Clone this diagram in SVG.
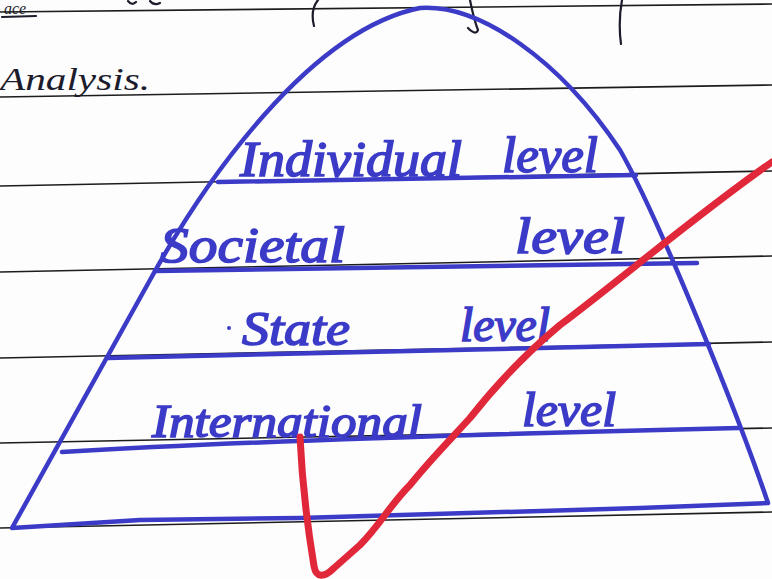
<svg xmlns="http://www.w3.org/2000/svg" width="772" height="579" viewBox="0 0 772 579">
<style>
.rule{stroke:#1c1c1c;stroke-width:1.6;fill:none}
.ink{stroke:#1c1c2c;stroke-width:2.2;fill:none;stroke-linecap:round}
.blue{stroke:#3b3bc8;stroke-width:4.5;fill:none;stroke-linecap:round;stroke-linejoin:round}
.hw{font-family:"Liberation Serif","DejaVu Serif",serif;font-style:italic;fill:#3b3bc8;stroke:#3b3bc8;stroke-width:1.6}
.bk{font-family:"Liberation Serif","DejaVu Serif",serif;font-style:italic;fill:#1c1c2c}
.red{stroke:#e0283a;stroke-width:7;fill:none;stroke-linecap:round;stroke-linejoin:round}
</style>
<rect width="772" height="579" fill="#fdfdfd"/>
<g id="paper">
<path class="rule" d="M0 12 L772 4"/>
<path class="rule" d="M0 97 L772 85"/>
<path class="rule" d="M0 186 L772 171"/>
<path class="rule" d="M0 272 L772 256"/>
<path class="rule" d="M0 358 L772 342"/>
<path class="rule" d="M0 443 L772 428"/>
<path class="rule" d="M0 528 L772 512"/>
<text class="bk" x="4" y="14" font-size="16">ace</text>
<path class="ink" d="M2 17 L36 16"/>
<path class="ink" d="M128 1 Q132 6 136 2 M150 1 Q154 6 160 3"/>
<path class="ink" d="M318 0 Q310 10 314 26"/>
<path class="ink" d="M470 0 Q474 20 478 30 Q476 36 468 28"/>
<path class="ink" d="M622 0 Q618 22 621 44"/>
<text class="bk" x="0" y="90" font-size="32" textLength="150" lengthAdjust="spacingAndGlyphs">Analysis.</text>
</g>
<g id="pyramid">
<path class="blue" d="M12 528 L150 280 C205 180 310 30 420 8 C480 4 560 60 620 150 C660 220 740 420 768 503 L640 508 L300 518 L140 520 L12 528 Z"/>
</g>
<g id="dividers">
<path class="blue" d="M218 182 L636 175"/>
<path class="blue" d="M155 271 L697 263"/>
<path class="blue" d="M108 358 L709 344"/>
<path class="blue" d="M62 452 Q300 438 739 428"/>
</g>
<g id="level-individual">
<text class="hw" x="240" y="176" font-size="50" textLength="222" lengthAdjust="spacingAndGlyphs">Individual</text>
<text class="hw" x="502" y="172" font-size="50" textLength="96" lengthAdjust="spacingAndGlyphs">level</text>
</g>
<g id="level-societal">
<text class="hw" x="160" y="262" font-size="50" textLength="185" lengthAdjust="spacingAndGlyphs">Societal</text>
<text class="hw" x="515" y="253" font-size="50" textLength="110" lengthAdjust="spacingAndGlyphs">level</text>
</g>
<g id="level-state">
<circle cx="229" cy="328" r="2" fill="#3b3bc8"/>
<text class="hw" x="242" y="345" font-size="48" textLength="108" lengthAdjust="spacingAndGlyphs">State</text>
<text class="hw" x="460" y="341" font-size="48" textLength="90" lengthAdjust="spacingAndGlyphs">level</text>
</g>
<g id="level-international">
<text class="hw" x="152" y="437" font-size="46" textLength="270" lengthAdjust="spacingAndGlyphs">International</text>
<text class="hw" x="522" y="426" font-size="48" textLength="94" lengthAdjust="spacingAndGlyphs">level</text>
</g>
<g id="check">
<path class="red" d="M300 437 C302 480 308 530 314 566 C316 578 324 578 334 568 L360 545 C380 525 390 505 410 485 C430 460 450 440 470 418 C500 380 530 350 560 325 C620 280 700 212 772 162"/>
</g>
</svg>
